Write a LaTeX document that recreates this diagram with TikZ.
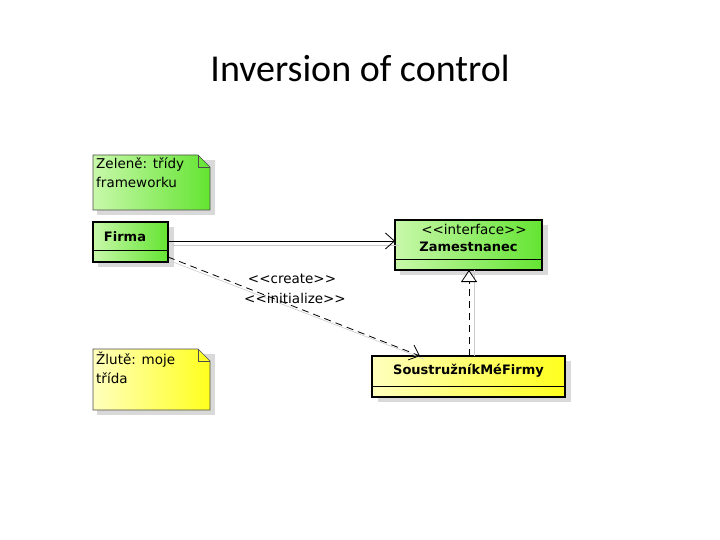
\documentclass[tikz,border=0pt]{standalone}
\usepackage{fontspec}
\setmainfont{DejaVu Sans}
\newfontfamily\titlefont{Carlito}
\usetikzlibrary{arrows.meta}
\definecolor{gA}{RGB}{200,248,170}
\definecolor{gB}{RGB}{100,228,50}
\definecolor{yA}{RGB}{255,255,190}
\definecolor{yB}{RGB}{255,255,30}
\tikzset{
 cls/.style={draw=black,line width=2.5pt},
 lbl/.style={font=\fontsize{13.5}{16}\selectfont,inner sep=0pt},
 bl/.style={font=\bfseries\fontsize{13}{16}\selectfont,inner sep=0pt},
 note/.style={draw=black!70,line width=0.6pt},
 opena/.style={-{Straight Barb[length=9pt,width=16pt,line width=0.8pt]}},
}
\begin{document}
\begin{tikzpicture}[x=1pt,y=-1pt]
\useasboundingbox (0,0) rectangle (720,540);
\node[font=\titlefont\fontsize{38}{44}\selectfont] (title) at (360,68) {Inversion of control};
% green note
\fill[black!15] (97,160) rectangle (215,215);
\shade[left color=gA,right color=gB] (93,155) -- (198,155) -- (210,167) -- (210,210) -- (93,210) -- cycle;
\draw[note] (93,155) -- (198,155) -- (210,167) -- (210,210) -- (93,210) -- cycle;
\draw[note] (198,155) -- (198,167) -- (210,167);
\node[lbl,align=left,anchor=north west] (n1) at (96,158) {Zeleně: třídy\\[3pt]frameworku};
% yellow note
\fill[black!15] (97,354) rectangle (215,415);
\shade[left color=yA,right color=yB] (93,349) -- (198,349) -- (210,361) -- (210,410) -- (93,410) -- cycle;
\draw[note] (93,349) -- (198,349) -- (210,361) -- (210,410) -- (93,410) -- cycle;
\draw[note] (198,349) -- (198,361) -- (210,361);
\node[lbl,align=left,anchor=north west] (n2) at (96,352) {Žlutě: moje\\[3pt]třída};
% Firma
\fill[black!15] (98,227) rectangle (174,267);
\shade[left color=gA,right color=gB] (93,222) rectangle (168,262);
\draw[cls] (93,222) rectangle (168,262);
\draw[black,line width=0.6pt] (93,250) -- (168,250);
\node[bl] (firma) at (125,237) {Firma};
\coordinate (fr) at (168,241);
\coordinate (fd) at (168,257);
% Zamestnanec
\fill[black!15] (400,225) rectangle (548,275);
\shade[left color=gA,right color=gB] (395,220) rectangle (542,270);
\draw[cls] (395,220) rectangle (542,270);
\draw[black,line width=0.6pt] (395,259) -- (542,259);
\node[lbl] (st) at (474,229) {<{}<interface>{}>};
\node[bl] (zam) at (468.5,247) {Zamestnanec};
\coordinate (zl) at (395,241);
\coordinate (zb) at (469,270);
% Soustruznik
\fill[black!15] (378,361) rectangle (571,402);
\shade[left color=yA,right color=yB] (372,356) rectangle (565,397);
\draw[cls] (372,356) rectangle (565,397);
\draw[black,line width=0.6pt] (372,386) -- (565,386);
\node[bl] (sou) at (468.5,371) {SoustružníkMéFirmy};
\coordinate (st2) at (469,356);
\coordinate (sa) at (420,356);
% connectors
\draw[black!20,line width=0.6pt] (172,245) -- (399,245);
\draw[black,line width=0.8pt,opena] (fr) -- (zl);
\draw[black!20,line width=0.6pt] (173,262) -- (424,359);
\draw[black,line width=0.8pt,dash pattern=on 7pt off 5pt,opena] (fd) -- (sa);
\draw[black!20,line width=0.6pt] (474,270) -- (474,356);
\draw[black,line width=0.8pt,dash pattern=on 7pt off 5pt,-{Triangle[open,length=12pt,width=16pt,fill=white]}] (st2) -- (zb);
\node[lbl] (c1) at (292,279) {<{}<create>{}>};
\node[lbl] (c2) at (295,298) {<{}<initialize>{}>};
\end{tikzpicture}
\end{document}
